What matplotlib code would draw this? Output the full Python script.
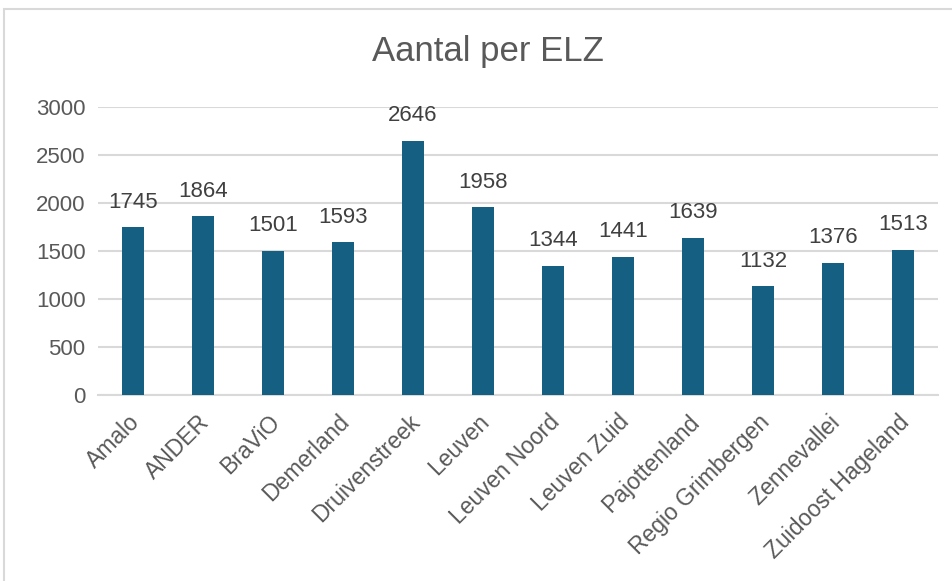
import matplotlib
matplotlib.use("Agg")
import matplotlib.pyplot as plt
from matplotlib.patches import Rectangle
from matplotlib.transforms import ScaledTranslation

plt.rcParams.update({
    "font.family": ["Liberation Sans", "DejaVu Sans"],
    "text.color": "#595959",
    "xtick.color": "#595959",
    "ytick.color": "#595959",
})

categories = ["Amalo", "ANDER", "BraViO", "Demerland", "Druivenstreek", "Leuven",
              "Leuven Noord", "Leuven Zuid", "Pajottenland", "Regio Grimbergen",
              "Zennevallei", "Zuidoost Hageland"]
counts = [1745, 1864, 1501, 1593, 2646, 1958, 1344, 1441, 1639, 1132, 1376, 1513]
yticks = [0, 500, 1000, 1500, 2000, 2500, 3000]

W, H = 953, 581
fig = plt.figure(figsize=(W / 100, H / 100), dpi=100)

# chart frame (only left/top edges visible in the crop)
fig.patches.append(Rectangle((4 / W, -0.1), 1.2, (H - 9) / H + 0.1,
                             transform=fig.transFigure, fill=False,
                             edgecolor="#d9d9d9", lw=1.5))

ax = fig.add_axes([98 / W, (H - 395) / H, (938 - 98) / W, (395 - 107) / H])

x = range(len(categories))
ax.bar(x, counts, width=0.31, color="#156082", zorder=3)
ax.set_xlim(-0.5, len(categories) - 0.5)
ax.set_ylim(0, 3000)
ax.set_yticks(yticks)
ax.yaxis.grid(True, color="#d9d9d9", lw=1.5, zorder=0)
ax.tick_params(axis="y", length=0, pad=9, labelsize=16)
ax.tick_params(axis="x", length=0, pad=17, labelsize=16.5)
ax.set_xticks(list(x))
ax.set_xticklabels(categories, rotation=45, ha="right", va="center",
                   rotation_mode="anchor")
shift = ScaledTranslation(3 / 100, 0, fig.dpi_scale_trans)
for lab in ax.get_xticklabels():
    lab.set_transform(lab.get_transform() + shift)
for s in ("top", "right", "left"):
    ax.spines[s].set_visible(False)
ax.spines["bottom"].set_color("#d9d9d9")
ax.spines["bottom"].set_linewidth(1.5)

for xi, v in zip(x, counts):
    ax.annotate(str(v), (xi, v), textcoords="offset points", xytext=(0, 18),
                ha="center", va="center", fontsize=16, color="#404040")

fig.text(488 / W, (H - 52) / H, "Aantal per ELZ", ha="center", va="center",
         fontsize=25, color="#595959")

fig.savefig("out.png", dpi=100)
